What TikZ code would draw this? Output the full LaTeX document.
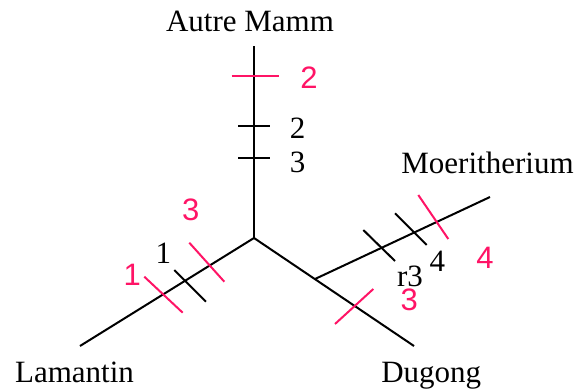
\documentclass[tikz,border=0pt]{standalone}
\usepackage{fontspec}
\setmainfont{Liberation Serif}
\newfontfamily\numfont{Liberation Sans}
\usetikzlibrary{positioning}
\definecolor{cpink}{HTML}{FF1466}
\definecolor{cblack}{HTML}{000000}
\tikzset{
  every picture/.style={x=0.5pt, y=-0.5pt, line width=1pt},
  taxon/.style={font=\fontsize{15.5}{18}\selectfont, inner sep=0pt, anchor=base},
  blab/.style={font=\fontsize{15.5}{18}\selectfont, inner sep=0pt},
  plab/.style={font=\numfont\fontsize{15.5}{18}\selectfont, text=cpink, inner sep=0pt},
  hatch/.style={draw=cblack, line width=1pt},
  phatch/.style={draw=cpink, line width=1pt},
}

\begin{document}
\begin{tikzpicture}
  \useasboundingbox (0,0) rectangle (578,390);
  % tree
  \coordinate (root) at (254,238);
  \coordinate (top) at (254,46);
  \coordinate (lam) at (80,346);
  \coordinate (dug) at (414,346);
  \coordinate (mjoin) at (315,279);
  \coordinate (moe) at (490,197);
  \draw (root) -- (top);
  \draw (root) -- (lam);
  \draw (root) -- (dug);
  \draw (mjoin) -- (moe);
  % taxa
  \node[taxon] (tautre) at (250,31.7) {Autre Mamm};
  \node[taxon] (tmoer) at (487.5,173.3) {Moeritherium};
  \node[taxon] (tlam) at (74.5,382.3) {Lamantin};
  \node[taxon] (tdug) at (431.3,382) {Dugong};
  % marks on the stem to Autre Mamm
  \draw[phatch] (231.7,76) -- (279.3,76);
  \draw[hatch] (238.3,126) -- (270,126);
  \draw[hatch] (238.3,157.7) -- (270,157.7);
  \node[plab] (p2) at (309,78) {2};
  \node[blab] (b2) at (297.7,128) {2};
  \node[blab] (b3) at (297.7,162) {3};
  % marks on the branch to Lamantin
  \draw[phatch] (144.3,276.7) -- (182.7,312.7);
  \draw[hatch] (174.3,270) -- (206,301.7);
  \draw[phatch] (189.3,242.7) -- (224.3,281.7);
  \node[plab] (p3l) at (190.7,210) {3};
  \node[blab] (b1) at (163.3,253.3) {1};
  \node[plab] (p1) at (132.3,275) {1};
  % marks on the branch to Dugong
  \draw[phatch] (335,324) -- (373.3,289);
  \node[plab] (p3d) at (409.3,300) {3};
  % marks on the branch to Moeritherium
  \draw[hatch] (363.3,230) -- (395,261);
  \draw[hatch] (395,213.3) -- (426.7,245);
  \draw[phatch] (418.3,195) -- (448.3,239);
  \node[blab] (br3) at (410,276.7) {r3};
  \node[blab] (b4) at (437.3,261.7) {4};
  \node[plab] (p4) at (485,258) {4};
\end{tikzpicture}
\end{document}
